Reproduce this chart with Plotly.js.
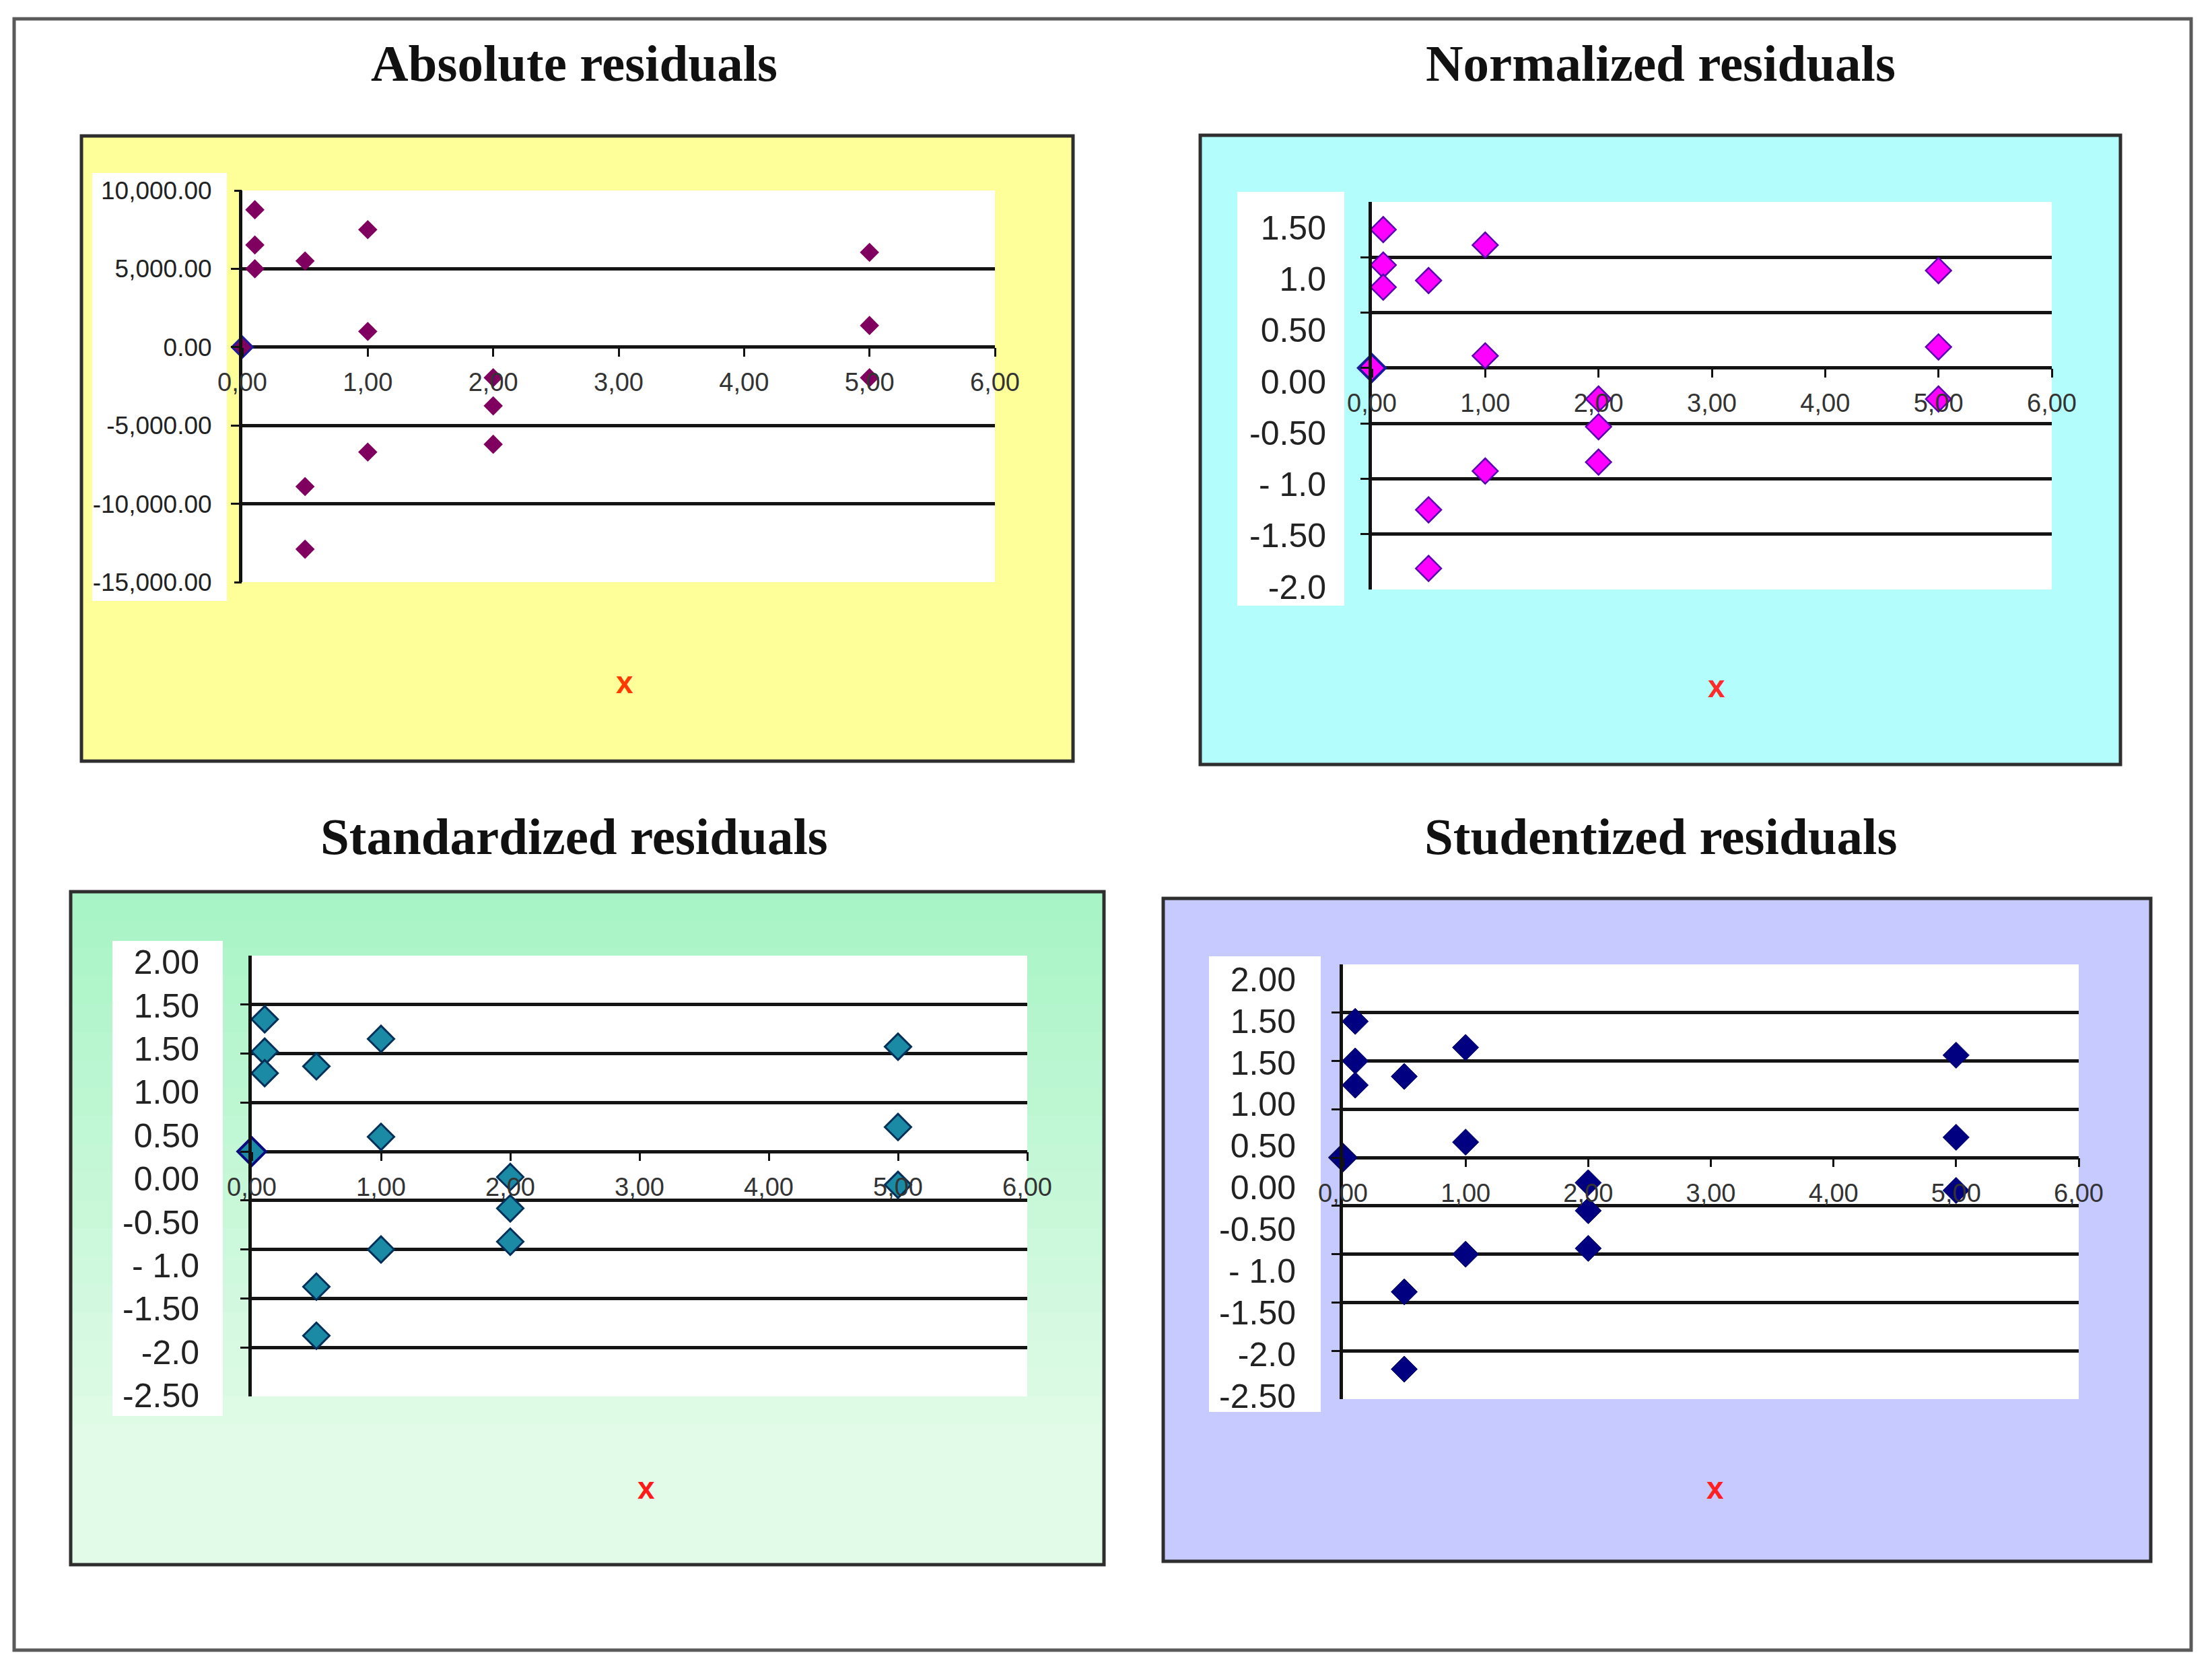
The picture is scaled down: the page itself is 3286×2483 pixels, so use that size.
<!DOCTYPE html>
<html>
<head>
<meta charset="utf-8">
<script src="https://cdn.plot.ly/plotly-3.0.1.min.js"></script>
<style>html,body{margin:0;padding:0;background:#fff;}#chart{width:3286px;height:2483px;}</style>
</head>
<body>
<div id="chart"></div>
<script>
// ---------------- DATA ----------------
const panelTitles = ['Absolute residuals', 'Normalized residuals', 'Standardized residuals', 'Studentized residuals'];
const xTitle = 'x';
const xVals = [0.1, 0.1, 0.1, 0.5, 0.5, 0.5, 1, 1, 1, 2, 2, 2, 5, 5, 5];
const absResid = [8770, 6520, 5000, 5500, -8900, -12900, 7500, 1000, -6700, -1950, -3750, -6200, 6050, 1380, -1950];
const normResid = [1.25, 0.93, 0.73, 0.79, -1.28, -1.81, 1.11, 0.11, -0.93, -0.28, -0.53, -0.85, 0.88, 0.19, -0.28];
const stdResid = [1.35, 1.02, 0.80, 0.87, -1.38, -1.88, 1.15, 0.15, -1.00, -0.26, -0.58, -0.92, 1.07, 0.25, -0.34];
const studResid = [1.41, 1.00, 0.75, 0.84, -1.39, -2.19, 1.14, 0.16, -1.00, -0.26, -0.55, -0.94, 1.06, 0.21, -0.34];
const originX = [0];
const originY = [0];
const xTickVals = [0, 1, 2, 3, 4, 5, 6];
const xTickText = ['0,00', '1,00', '2,00', '3,00', '4,00', '5,00', '6,00'];
const absTickVals = [10000, 5000, 0, -5000, -10000, -15000];
const absTickText = ['10,000.00', '5,000.00', '0.00', '-5,000.00', '-10,000.00', '-15,000.00'];
const normTickText = ['1.50', '1.0', '0.50', '0.00', '-0.50', '- 1.0', '-1.50', '-2.0'];
const stdTickText = ['2.00', '1.50', '1.50', '1.00', '0.50', '0.00', '-0.50', '- 1.0', '-1.50', '-2.0', '-2.50'];
const studTickText = ['2.00', '1.50', '1.50', '1.00', '0.50', '0.00', '-0.50', '- 1.0', '-1.50', '-2.0', '-2.50'];
const absGridVals = [5000, 0, -5000, -10000];
const normGridVals = [1.0, 0.5, 0, -0.5, -1.0, -1.5];
const stdGridVals = [1.5, 1.0, 0.5, 0, -0.5, -1.0, -1.5, -2.0];

// ---------------- LAYOUT HELPERS ----------------
const W = 3286, H = 2483;
const fx = p => p / W;
const fy = p => 1 - p / H;
const TICKFONT = 'Liberation Sans, Arial, sans-serif';

const panels = [
  { title: panelTitles[0], titleXY: [853, 94], xLab: [928, 1014], xLabColor: '#ff3a00',
    box: [121, 202, 1594, 1131], bg: '#ffff99', labelBox: [137, 257, 337, 893],
    plot: [360, 283, 1478, 865], yRange: [-15000, 10000], grid: absGridVals,
    labelVals: absTickVals, labelText: absTickText, labelRange: [-15000, 10000], labelGap: 40, labelTicks: true,
    yFont: 37, xFont: 38, y: absResid,
    marker: { color: '#800060', size: 22, line: { color: '#800060', width: 0 } },
    origin: { color: '#800060', size: 24, line: { color: '#1c1c9c', width: 3 } } },
  { title: panelTitles[1], titleXY: [2467, 94], xLab: [2550, 1020], xLabColor: '#ff2a2a',
    box: [1783, 201, 3150, 1136], bg: '#b4fdfd', labelBox: [1838, 285, 1997, 900],
    plot: [2038, 300, 3048, 876], yRange: [-2, 1.5], grid: normGridVals,
    labelText: normTickText, labelRange: [-0.05, 7.5], labelGap: 61, labelTicks: false,
    yFont: 50, xFont: 38, y: normResid,
    marker: { color: '#ff00ff', size: 29, line: { color: '#5a00b0', width: 2.5 } },
    origin: { color: '#ff00ff', size: 31, line: { color: '#1a1a9a', width: 4 } } },
  { title: panelTitles[2], titleXY: [853, 1243], xLab: [960, 2211], xLabColor: '#ff1a1a',
    box: [105, 1325, 1640, 2325], bg: 'gradient', labelBox: [167, 1398, 331, 2104],
    plot: [374, 1420, 1526, 2075], yRange: [-2.5, 2.0], grid: stdGridVals,
    labelText: stdTickText, labelRange: [-0.02, 10.15], labelGap: 71, labelTicks: false,
    yFont: 50, xFont: 38, y: stdResid,
    marker: { color: '#1b8ba5', size: 30, line: { color: '#00305a', width: 3 } },
    origin: { color: '#1b8ba5', size: 32, line: { color: '#0a0a80', width: 4 } } },
  { title: panelTitles[3], titleXY: [2467, 1243], xLab: [2548, 2211], xLabColor: '#ff2020',
    box: [1728, 1335, 3195, 2320], bg: '#c6caff', labelBox: [1796, 1421, 1962, 2098],
    plot: [1995, 1433, 3088, 2079], yRange: [-2.5, 2.0], grid: stdGridVals,
    labelText: studTickText, labelRange: [-0.08, 10.36], labelGap: 63, labelTicks: false,
    yFont: 50, xFont: 38, y: studResid,
    marker: { color: '#000080', size: 30, line: { color: '#000060', width: 1 } },
    origin: { color: '#000080', size: 32, line: { color: '#000060', width: 2 } } }
];

const shapes = [];
const annotations = [];
const traces = [];
const layout = {
  width: W, height: H, autosize: false,
  margin: { l: 0, r: 0, t: 0, b: 0, pad: 0 },
  paper_bgcolor: '#ffffff', plot_bgcolor: 'rgba(0,0,0,0)',
  showlegend: false, hovermode: false,
  shapes: shapes, annotations: annotations
};

function rect(b, fill, lineColor, lineWidth) {
  shapes.push({ type: 'rect', xref: 'paper', yref: 'paper', layer: 'below',
    x0: fx(b[0]), x1: fx(b[2]), y0: fy(b[3]), y1: fy(b[1]),
    fillcolor: fill,
    line: { color: lineColor || 'rgba(0,0,0,0)', width: lineWidth || 0 } });
}

// outer frame
rect([21, 28, 3255, 2452], '#ffffff', '#5a5a5a', 5);

function mix(c1, c2, t) {
  const a = c1.map((v, i) => Math.round(v + (c2[i] - v) * t));
  return 'rgb(' + a.join(',') + ')';
}

panels.forEach((p, i) => {
  const n = i + 1;
  const xa = 'x' + (n === 1 ? '' : n);
  const ya = 'y' + (n === 1 ? '' : n);
  const yl = 'y' + (n + 4);
  // panel background
  if (p.bg === 'gradient') {
    const top = [168, 244, 198], bot = [226, 251, 232];
    const bands = 24;
    const hgt = (p.box[3] - p.box[1]) / bands;
    for (let k = 0; k < bands; k++) {
      const t = Math.min(1, k / (bands * 0.8));
      rect([p.box[0], p.box[1] + k * hgt, p.box[2], p.box[1] + (k + 1) * hgt + 1], mix(top, bot, t), null, 0);
    }
    rect(p.box, 'rgba(0,0,0,0)', '#2e2e2e', 5);
  } else {
    rect(p.box, p.bg, '#2e2e2e', 5);
  }
  rect(p.labelBox, '#ffffff', null, 0);
  rect(p.plot, '#ffffff', null, 0);

  const yTop = p.plot[1], yBot = p.plot[3];
  const zeroPx = yTop + (p.yRange[1] - 0) / (p.yRange[1] - p.yRange[0]) * (yBot - yTop);

  layout['xaxis' + (n === 1 ? '' : n)] = {
    domain: [fx(p.plot[0]), fx(p.plot[2])], range: [0, 6],
    anchor: 'free', position: fy(zeroPx),
    tickmode: 'array', tickvals: xTickVals, ticktext: xTickText,
    ticks: 'outside', ticklen: 13, tickwidth: 3, tickcolor: '#111',
    ticklabelstandoff: 6,
    showline: false, showgrid: false, zeroline: false, automargin: false,
    tickfont: { family: TICKFONT, size: p.xFont, color: '#333' }
  };
  layout['yaxis' + (n === 1 ? '' : n)] = {
    domain: [fy(p.plot[3]), fy(p.plot[1])], range: p.yRange, anchor: xa,
    tickmode: 'array', tickvals: p.grid, showticklabels: false,
    ticks: 'outside', ticklen: 12, tickwidth: 3, tickcolor: '#111',
    showgrid: true, gridcolor: '#141414', gridwidth: 5,
    showline: true, linecolor: '#111', linewidth: 5, zeroline: false, automargin: false
  };
  const nLab = p.labelText.length;
  const labVals = p.labelVals ? p.labelVals : p.labelText.map((_, k) => nLab - 1 - k);
  const labAxis = {
    overlaying: ya, anchor: xa, side: 'left', range: p.labelRange,
    tickmode: 'array', ticktext: p.labelText, tickvals: labVals,
    showgrid: false, zeroline: false, showline: false, automargin: false,
    tickfont: { family: TICKFONT, size: p.yFont, color: '#222' }
  };
  if (p.labelTicks) {
    Object.assign(labAxis, { ticks: 'outside', ticklen: 11, tickwidth: 3, tickcolor: '#111', ticklabelstandoff: p.labelGap - 14 });
  } else {
    Object.assign(labAxis, { ticks: 'outside', ticklen: p.labelGap - 4, tickwidth: 1, tickcolor: 'rgba(0,0,0,0)' });
  }
  layout['yaxis' + (n + 4)] = labAxis;

  // empty trace that registers the label axis so it is drawn
  traces.push({ type: 'scatter', mode: 'markers', x: [], y: [], xaxis: xa, yaxis: yl,
    marker: { opacity: 0 } });
  traces.push({ type: 'scatter', mode: 'markers', x: xVals, y: p.y, xaxis: xa, yaxis: ya,
    cliponaxis: false, marker: Object.assign({ symbol: 'diamond' }, p.marker) });
  traces.push({ type: 'scatter', mode: 'markers', x: originX, y: originY, xaxis: xa, yaxis: ya,
    cliponaxis: false, marker: Object.assign({ symbol: 'diamond' }, p.origin) });

  annotations.push({ xref: 'paper', yref: 'paper', x: fx(p.titleXY[0]), y: fy(p.titleXY[1]),
    xanchor: 'center', yanchor: 'middle', showarrow: false, text: '<b>' + p.title + '</b>',
    font: { family: 'Liberation Serif, Times New Roman, serif', size: 77, color: '#111' } });
  annotations.push({ xref: 'paper', yref: 'paper', x: fx(p.xLab[0]), y: fy(p.xLab[1]),
    xanchor: 'center', yanchor: 'middle', showarrow: false, text: '<b>' + xTitle + '</b>',
    font: { family: TICKFONT, size: 46, color: p.xLabColor } });
});

Plotly.newPlot('chart', traces, layout, { staticPlot: true, displayModeBar: false });
</script>
</body>
</html>
